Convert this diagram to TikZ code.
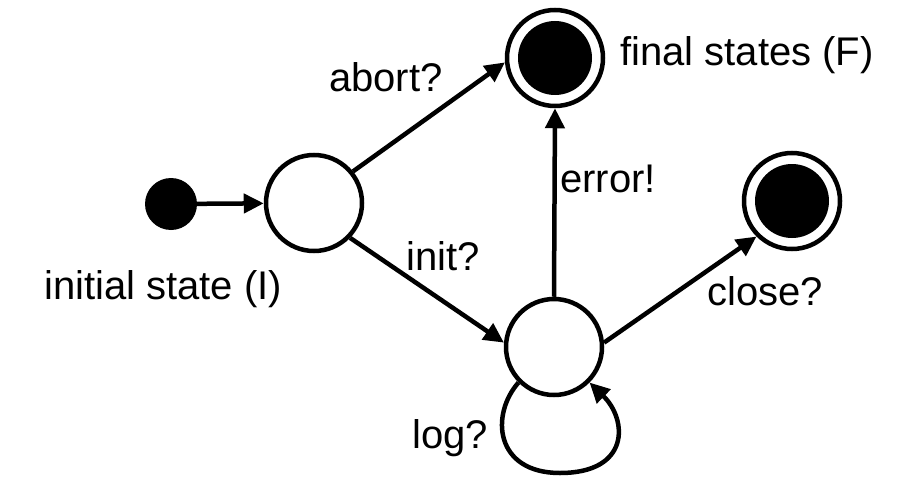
\documentclass[tikz,border=0pt]{standalone}
\usepackage{fontspec}
\setmainfont{Liberation Sans}
\usetikzlibrary{arrows.meta}

\begin{document}
\begin{tikzpicture}[x=1pt, y=-1pt,
    state/.style={circle, draw, line width=4.5pt, minimum size=96pt, inner sep=0pt},
    startdot/.style={circle, fill=black, minimum size=52pt, inner sep=0pt},
    finalstate/.style={state, path picture={\fill (path picture bounding box.center) circle (37pt);}},
    trans/.style={-{Triangle[length=20pt, width=19pt]}, line width=4.5pt},
    lbl/.style={inner sep=0pt, anchor=base west, font=\fontsize{40}{46}\selectfont}]

  \useasboundingbox (0,0) rectangle (902,495);

  % states
  \node[startdot]   (I)  at (171,204) {};
  \node[state]      (A)  at (314,203) {};
  \node[state]      (B)  at (554,347) {};
  \node[finalstate] (F1) at (555,58)  {};
  \node[finalstate] (F2) at (792,201) {};

  % transitions
  \draw[trans] (I) -- (A);
  \draw[trans] (A.39) -- (F1.185);
  \draw[trans] (A.-44) -- (B.175);
  \draw[trans] (B.north) -- (F1.south);
  \draw[trans] (B.5) -- (F2.225);
  % self loop below the lower state
  \draw[trans] (B.225) .. controls (490,415) and (495,473) .. (560,473)
                       .. controls (630,473) and (628,420) .. (B.315);

  % labels
  \node[lbl] (lI)     at (44,299)  {initial state (I)};
  \node[lbl] (lF)     at (620,66)  {final states (F)};
  \node[lbl] (lab)    at (329,92)  {abort?};
  \node[lbl] (linit)  at (406,270) {init?};
  \node[lbl] (lerr)   at (560,192) {error!};
  \node[lbl] (lclose) at (707,305) {close?};
  \node[lbl] (llog)   at (412,448) {log?};
\end{tikzpicture}
\end{document}
